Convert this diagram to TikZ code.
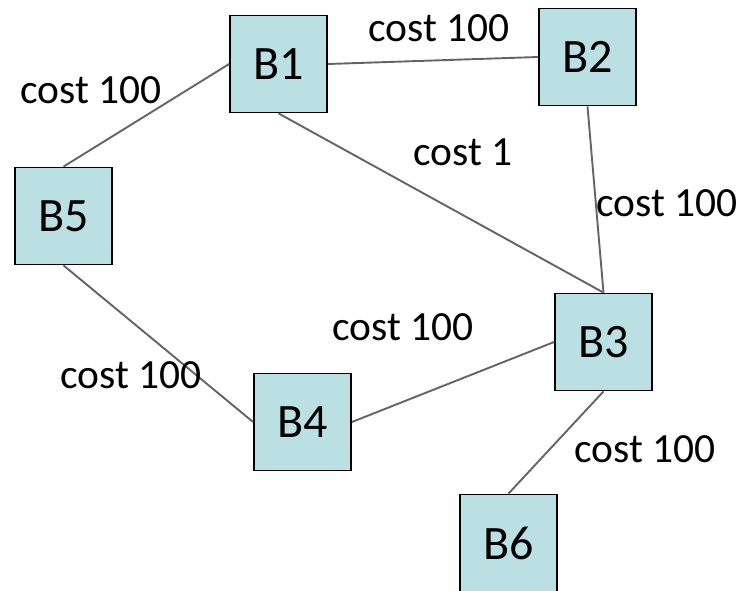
\documentclass[tikz,border=0pt]{standalone}
\usepackage{fontspec}
\setmainfont{Carlito}
\usepackage{tikz}
\usetikzlibrary{positioning}
\definecolor{boxfill}{RGB}{186,224,227}
\definecolor{linkgray}{RGB}{100,100,100}
\tikzstyle{bridge}=[draw=black,line width=1.8pt,fill=boxfill,minimum size=97pt,inner sep=0,font=\fontsize{48}{52}\selectfont]
\tikzstyle{link}=[draw=linkgray,line width=1.9pt]
\tikzstyle{cost}=[inner sep=0,font=\fontsize{41.5}{45}\selectfont]

\begin{document}
\begin{tikzpicture}[x=1pt,y=-1pt]

	\useasboundingbox (0,0) rectangle (745,590);
	\clip (0,0) rectangle (745,590);

	\node[bridge] (b1) at (278.5,64) {B1};
	\node[bridge] (b2) at (587.5,57) {B2};
	\node[bridge] (b3) at (603.5,342) {B3};
	\node[bridge] (b4) at (302.5,422) {B4};
	\node[bridge] (b5) at (63.5,216) {B5};
	\node[bridge] (b6) at (508.5,543) {B6};

	\draw[link] (b1.east) -- (b2.west);
	\draw[link] (b1.west) -- (b5.north);
	\draw[link] (b1.south) -- (b3.north);
	\draw[link] (b2.south) -- (b3.north);
	\draw[link] (b5.south) -- (b4.west);
	\draw[link] (b4.east) -- (b3.west);
	\draw[link] (b3.south) -- (b6.north);

	\node[cost] (c12) at (439,28) {cost 100};
	\node[cost] (c15) at (91,90) {cost 100};
	\node[cost] (c13) at (463,152) {cost 1};
	\node[cost] (c23) at (667,203) {cost 100};
	\node[cost] (c43) at (403,327) {cost 100};
	\node[cost] (c54) at (131,375) {cost 100};
	\node[cost] (c36) at (645,449) {cost 100};

\end{tikzpicture}
\end{document}
